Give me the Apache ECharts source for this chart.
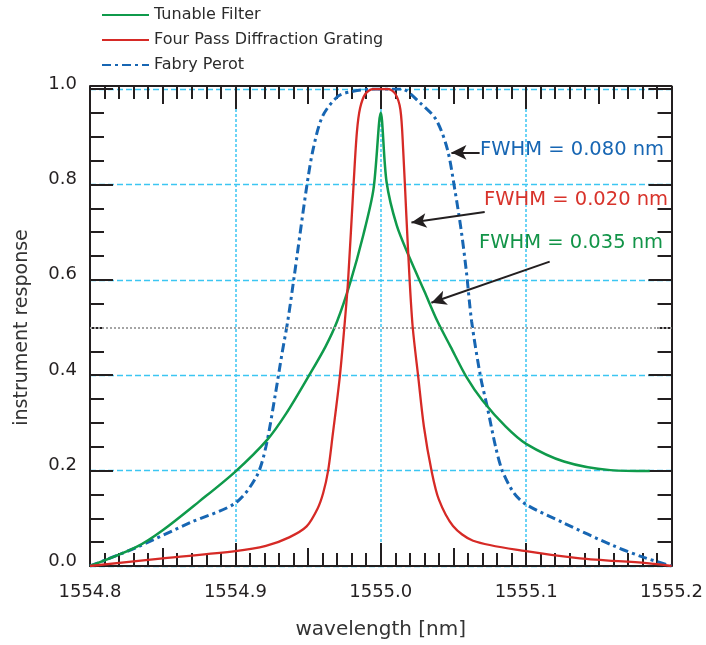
<!DOCTYPE html>
<html>
<head>
<meta charset="utf-8">
<script src="https://cdn.jsdelivr.net/npm/echarts@6/dist/echarts.min.js"></script>
<style>
html,body{margin:0;padding:0;background:#fff;}
#chart{width:706px;height:645px;}
</style>
</head>
<body>
<div id="chart"></div>
<script>
// ---- data ----
const seriesNames = ['Tunable Filter', 'Four Pass Diffraction Grating', 'Fabry Perot'];

const tfWavelength = [1554.800,1554.832,1554.850,1554.875,1554.900,1554.922,1554.935,1554.950,1554.962,1554.970,1554.979,1554.988,1554.995,1555.000,1555.004,1555.011,1555.020,1555.030,1555.039,1555.048,1555.059,1555.070,1555.086,1555.100,1555.126,1555.158,1555.185];
const tfResponse   = [0.000,0.040,0.075,0.135,0.198,0.265,0.320,0.396,0.460,0.513,0.594,0.694,0.790,0.950,0.805,0.714,0.645,0.576,0.513,0.460,0.396,0.347,0.292,0.256,0.219,0.201,0.199];

const dgWavelength = [1554.800,1554.850,1554.900,1554.921,1554.937,1554.949,1554.9565,1554.9604,1554.9638,1554.9668,1554.9718,1554.9753,1554.9775,1554.9814,1554.9836,1554.9858,1554.9895,1554.995,1555.005,1555.010,1555.0135,1555.0154,1555.0176,1555.0199,1555.022,1555.0258,1555.0297,1555.0349,1555.040,1555.0497,1555.0635,1555.100,1555.137,1555.183,1555.200];
const dgResponse   = [0.000,0.016,0.031,0.042,0.060,0.083,0.120,0.153,0.200,0.271,0.396,0.513,0.597,0.805,0.910,0.960,0.990,1.000,1.000,0.990,0.957,0.874,0.735,0.597,0.500,0.396,0.292,0.200,0.139,0.084,0.053,0.031,0.016,0.006,0.000];

const fpWavelength = [1554.800,1554.832,1554.869,1554.900,1554.9146,1554.921,1554.9275,1554.932,1554.936,1554.940,1554.949,1554.9535,1554.960,1554.9707,1554.981,1554.995,1555.014,1555.027,1555.038,1555.0458,1555.0509,1555.0555,1555.0589,1555.0625,1555.0687,1555.0733,1555.079,1555.0836,1555.0916,1555.100,1555.1253,1555.1597,1555.181,1555.200];
const fpResponse   = [0.000,0.039,0.091,0.132,0.188,0.250,0.360,0.444,0.513,0.597,0.794,0.874,0.943,0.985,0.995,1.000,1.000,0.971,0.936,0.874,0.790,0.700,0.617,0.513,0.396,0.333,0.250,0.200,0.153,0.129,0.091,0.043,0.018,0.000];

const halfMaximum = 0.5;
const xTickValues = [1554.8, 1554.9, 1555.0, 1555.1, 1555.2];
const yTickValues = [0.0, 0.2, 0.4, 0.6, 0.8, 1.0];

const annotationTexts = ['FWHM = 0.080 nm', 'FWHM = 0.020 nm', 'FWHM = 0.035 nm'];
// arrows: [tail, tip] in data units (wavelength, response)
const arrowFP = [[1555.068, 0.867], [1555.0486, 0.867]];
const arrowDG = [[1555.0715, 0.742], [1555.0211, 0.720]];
const arrowTF = [[1555.1162, 0.638], [1555.0348, 0.552]];

// ---- chart ----
const FONT = 'DejaVu Sans';
const C_GREEN = '#0f9a4b', C_RED = '#d62a26', C_BLUE = '#1766b3';
const C_AXIS = '#231f20', C_GRID = '#3cc6f2';

const zip = (a, b) => a.map((v, i) => [v, b[i]]);
const xmin = xTickValues[0], xmax = xTickValues[xTickValues.length - 1];
const ymin = yTickValues[0], ymax = yTickValues[yTickValues.length - 1];

function tickAxis(position, interval, length, extra) {
  return Object.assign({
    type: 'value', min: xmin, max: xmax, gridIndex: 0, position: position, interval: interval,
    offset: position === 'top' ? 3 : 0,
    axisLine: { show: false, onZero: false },
    axisTick: { show: true, inside: true, length: length, lineStyle: { color: C_AXIS, width: 2 } },
    axisLabel: { show: false },
    splitLine: { show: false }
  }, extra || {});
}

const chart = echarts.init(document.getElementById('chart'), null, { renderer: 'canvas' });

function arrowItem(a) {
  return [
    { coord: a[0], symbol: 'none' },
    { coord: a[1], symbol: 'arrow', symbolSize: [11, 15] }
  ];
}

chart.setOption({
  animation: false,
  backgroundColor: '#fff',
  textStyle: { fontFamily: FONT },
  grid: { left: 90, right: 34, top: 89, bottom: 78, containLabel: false },
  legend: {
    data: seriesNames,
    orient: 'vertical', left: 101, top: 7, padding: 0,
    itemWidth: 47, itemHeight: 14, itemGap: 9,
    itemStyle: { opacity: 0 },
    textStyle: { fontFamily: FONT, fontSize: 16, color: '#2b2b2b' }
  },
  xAxis: [
    tickAxis('bottom', 0.1, 23, {
      name: 'wavelength [nm]', nameLocation: 'middle', nameGap: 54,
      nameTextStyle: { fontFamily: FONT, fontSize: 20, color: '#333' },
      axisLine: { show: true, onZero: false, lineStyle: { color: C_AXIS, width: 2 } },
      axisLabel: { show: true, margin: 17, fontFamily: FONT, fontSize: 18, color: C_AXIS, formatter: v => v.toFixed(1) },
      splitLine: { show: true, lineStyle: { color: C_GRID, type: [3, 2], width: 1.5 } }
    }),
    tickAxis('bottom', 0.05, 18),
    tickAxis('bottom', 0.01, 13),
    tickAxis('top', 0.1, 23, { axisLine: { show: true, onZero: false, lineStyle: { color: C_AXIS, width: 2 } } }),
    tickAxis('top', 0.05, 18),
    tickAxis('top', 0.01, 13)
  ],
  yAxis: [
    {
      type: 'value', min: ymin, max: ymax, interval: 0.2, position: 'left', gridIndex: 0,
      name: 'instrument response', nameLocation: 'middle', nameGap: 58,
      nameTextStyle: { fontFamily: FONT, fontSize: 19, color: '#333' },
      axisLine: { show: true, onZero: false, lineStyle: { color: C_AXIS, width: 2 } },
      axisTick: { show: true, inside: true, length: 23, lineStyle: { color: C_AXIS, width: 2 } },
      minorTick: { show: true, splitNumber: 4, length: 14, lineStyle: { color: C_AXIS, width: 2 } },
      axisLabel: { show: true, margin: 13, fontFamily: FONT, fontSize: 18, color: C_AXIS,
                   formatter: v => v.toFixed(1), verticalAlign: 'bottom', lineHeight: 10 },
      splitLine: { show: true, lineStyle: { color: C_GRID, type: [6, 3], width: 1.3 } }
    },
    {
      type: 'value', min: ymin, max: ymax, interval: 0.2, position: 'right', gridIndex: 0,
      axisLine: { show: true, onZero: false, lineStyle: { color: C_AXIS, width: 2 } },
      axisTick: { show: true, inside: true, length: 23, lineStyle: { color: C_AXIS, width: 2 } },
      minorTick: { show: true, splitNumber: 4, length: 14, lineStyle: { color: C_AXIS, width: 2 } },
      axisLabel: { show: false },
      splitLine: { show: false }
    }
  ],
  series: [
    {
      name: seriesNames[2], type: 'line', xAxisIndex: 0, yAxisIndex: 0,
      data: zip(fpWavelength, fpResponse), symbol: 'none',
      smooth: 0.3,
      lineStyle: { color: C_BLUE, width: 3, type: [9, 4, 3, 4] },
      itemStyle: { color: C_BLUE }, z: 3,
      markLine: {
        silent: true, symbol: 'none', animation: false,
        label: { show: false },
        lineStyle: { color: '#a5a5a5', type: [2, 2], width: 2 },
        data: [{ yAxis: halfMaximum, lineStyle: { color: '#a5a5a5', type: [2, 2], width: 2 } }]
      }
    },
    {
      name: seriesNames[0], type: 'line', xAxisIndex: 0, yAxisIndex: 0,
      data: zip(tfWavelength, tfResponse), symbol: 'none',
      smooth: 0.3,
      lineStyle: { color: C_GREEN, width: 2.5 },
      itemStyle: { color: C_GREEN }, z: 4
    },
    {
      name: seriesNames[1], type: 'line', xAxisIndex: 0, yAxisIndex: 0,
      data: zip(dgWavelength, dgResponse), symbol: 'none',
      smooth: 0.3,
      lineStyle: { color: C_RED, width: 2.3 },
      itemStyle: { color: C_RED }, z: 5,
      markLine: {
        silent: true, animation: false,
        label: { show: false },
        lineStyle: { color: '#231f20', type: 'solid', width: 2 },
        data: [arrowItem(arrowFP), arrowItem(arrowDG), arrowItem(arrowTF)]
      }
    }
  ],
  graphic: [
    { type: 'text', x: 480, y: 150, z: 10, style: { text: annotationTexts[0], fill: C_BLUE, font: '19.5px "DejaVu Sans"', verticalAlign: 'middle' } },
    { type: 'text', x: 484, y: 200, z: 10, style: { text: annotationTexts[1], fill: '#d8332b', font: '19.5px "DejaVu Sans"', verticalAlign: 'middle' } },
    { type: 'text', x: 479, y: 243, z: 10, style: { text: annotationTexts[2], fill: '#129448', font: '19.5px "DejaVu Sans"', verticalAlign: 'middle' } }
  ]
});
</script>
</body>
</html>
